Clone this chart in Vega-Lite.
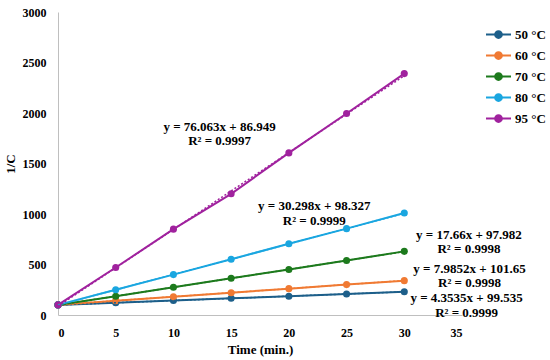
{
  "$schema": "https://vega.github.io/schema/vega-lite/v6.json",
  "width": 404,
  "height": 303,
  "autosize": {"type": "none"},
  "padding": {"left": 58, "top": 12, "right": 88, "bottom": 45},
  "background": "white",
  "config": {
    "font": "Liberation Serif",
    "view": {"stroke": null},
    "axis": {
      "domainColor": "#bfbfbf",
      "domainWidth": 1,
      "ticks": false,
      "grid": false,
      "labelFont": "Liberation Serif",
      "labelFontSize": 12,
      "labelFontWeight": "bold",
      "labelColor": "#000000",
      "titleFont": "Liberation Serif",
      "titleFontSize": 13,
      "titleFontWeight": "bold",
      "titleColor": "#000000"
    },
    "legend": {
      "labelFont": "Liberation Serif",
      "labelFontSize": 13,
      "labelFontWeight": "bold",
      "labelColor": "#000000"
    }
  },
  "datasets": {
    "obs": [
      {"s": "50 °C", "t": 0, "v": 100}, {"s": "50 °C", "t": 5, "v": 122}, {"s": "50 °C", "t": 10, "v": 143}, {"s": "50 °C", "t": 15, "v": 165}, {"s": "50 °C", "t": 20, "v": 186}, {"s": "50 °C", "t": 25, "v": 208}, {"s": "50 °C", "t": 30, "v": 230},
      {"s": "60 °C", "t": 0, "v": 100}, {"s": "60 °C", "t": 5, "v": 142}, {"s": "60 °C", "t": 10, "v": 181}, {"s": "60 °C", "t": 15, "v": 221}, {"s": "60 °C", "t": 20, "v": 261}, {"s": "60 °C", "t": 25, "v": 301}, {"s": "60 °C", "t": 30, "v": 340},
      {"s": "70 °C", "t": 0, "v": 100}, {"s": "70 °C", "t": 5, "v": 186}, {"s": "70 °C", "t": 10, "v": 275}, {"s": "70 °C", "t": 15, "v": 363}, {"s": "70 °C", "t": 20, "v": 450}, {"s": "70 °C", "t": 25, "v": 540}, {"s": "70 °C", "t": 30, "v": 630},
      {"s": "80 °C", "t": 0, "v": 100}, {"s": "80 °C", "t": 5, "v": 250}, {"s": "80 °C", "t": 10, "v": 400}, {"s": "80 °C", "t": 15, "v": 552}, {"s": "80 °C", "t": 20, "v": 705}, {"s": "80 °C", "t": 25, "v": 855}, {"s": "80 °C", "t": 30, "v": 1010},
      {"s": "95 °C", "t": 0, "v": 100}, {"s": "95 °C", "t": 5, "v": 470}, {"s": "95 °C", "t": 10, "v": 850}, {"s": "95 °C", "t": 15, "v": 1200}, {"s": "95 °C", "t": 20, "v": 1605}, {"s": "95 °C", "t": 25, "v": 1995}, {"s": "95 °C", "t": 30, "v": 2390}
    ],
    "trend": [
      {"s": "50 °C", "t": 0, "v": 99.5}, {"s": "50 °C", "t": 30, "v": 230},
      {"s": "60 °C", "t": 0, "v": 101.7}, {"s": "60 °C", "t": 30, "v": 341},
      {"s": "70 °C", "t": 0, "v": 98}, {"s": "70 °C", "t": 30, "v": 628},
      {"s": "80 °C", "t": 0, "v": 98.3}, {"s": "80 °C", "t": 30, "v": 1007},
      {"s": "95 °C", "t": 0, "v": 87}, {"s": "95 °C", "t": 30, "v": 2369}
    ],
    "notes": [
      {"t": 14.0, "v": 1866, "label": "y = 76.063x + 86.949\nR² = 0.9997"},
      {"t": 22.2, "v": 1075, "label": "y = 30.298x + 98.327\nR² = 0.9999"},
      {"t": 35.6, "v": 797, "label": "y = 17.66x + 97.982\nR² = 0.9998"},
      {"t": 35.65, "v": 460, "label": "y = 7.9852x + 101.65\nR² = 0.9998"},
      {"t": 35.4, "v": 168, "label": "y = 4.3535x + 99.535\nR² = 0.9999"}
    ]
  },
  "layer": [
    {
      "data": {"name": "obs"},
      "mark": {"type": "line", "strokeWidth": 2},
      "encoding": {
        "x": {"field": "t", "type": "quantitative", "scale": {"domain": [0, 35], "nice": false}, "axis": {"values": [0, 5, 10, 15, 20, 25, 30, 35], "title": "Time (min.)", "labelPadding": 12, "titlePadding": 5}},
        "y": {"field": "v", "type": "quantitative", "scale": {"domain": [0, 3000], "nice": false}, "axis": {"values": [0, 500, 1000, 1500, 2000, 2500, 3000], "format": "d", "title": "1/C", "labelPadding": 12, "titlePadding": 5}},
        "color": {
          "field": "s", "type": "nominal",
          "scale": {"domain": ["50 °C", "60 °C", "70 °C", "80 °C", "95 °C"], "range": ["#1d5f8a", "#f07a33", "#1d7a1d", "#1aa6e0", "#a0229e"]},
          "legend": {
            "title": null,
            "orient": "none",
            "legendX": 427,
            "legendY": 9,
            "symbolType": "M-1,0L1,0M0.27,0A0.27,0.27,0,1,1,-0.27,0A0.27,0.27,0,1,1,0.27,0Z",
            "symbolSize": 625,
            "symbolStrokeWidth": 2,
            "rowPadding": -6,
            "labelOffset": 3,
            "encode": {"symbols": {"update": {"fill": {"scale": "color", "field": "value"}, "stroke": {"scale": "color", "field": "value"}, "opacity": {"value": 1}}}}
          }
        }
      }
    },
    {
      "data": {"name": "obs"},
      "mark": {"type": "point", "filled": true, "size": 50, "opacity": 1},
      "encoding": {
        "x": {"field": "t", "type": "quantitative"},
        "y": {"field": "v", "type": "quantitative"},
        "color": {"field": "s", "type": "nominal"}
      }
    },
    {
      "data": {"name": "trend"},
      "mark": {"type": "line", "strokeWidth": 1.5, "strokeDash": [2, 2]},
      "encoding": {
        "x": {"field": "t", "type": "quantitative"},
        "y": {"field": "v", "type": "quantitative"},
        "color": {"field": "s", "type": "nominal"}
      }
    },
    {
      "data": {"name": "notes"},
      "mark": {"type": "text", "font": "Liberation Serif", "fontSize": 13, "fontWeight": "bold", "color": "#000000", "align": "center", "baseline": "middle", "lineBreak": "\n", "lineHeight": 14.5},
      "encoding": {
        "x": {"field": "t", "type": "quantitative"},
        "y": {"field": "v", "type": "quantitative"},
        "text": {"field": "label", "type": "nominal"}
      }
    }
  ]
}
